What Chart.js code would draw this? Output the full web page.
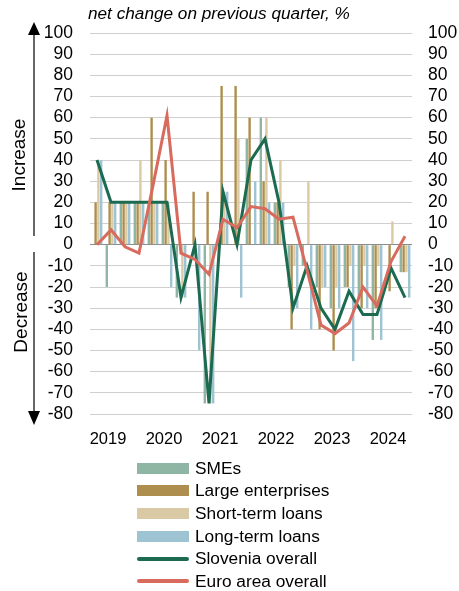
<!DOCTYPE html>
<html>
<head>
<meta charset="utf-8">
<script src="https://cdn.jsdelivr.net/npm/chart.js@4"></script>
<style>
  html, body { margin: 0; padding: 0; background: #fff; }
  #wrap { position: relative; width: 459px; height: 591px; }
  #legend { position: absolute; left: 137px; top: 457px; font: 17.3px "Liberation Sans", Arial, sans-serif; color: #000; }
  .item { height: 22.6px; display: flex; align-items: center; }
  .sw { width: 52px; margin-right: 6px; }
</style>
</head>
<body>
<div id="wrap">
  <canvas id="myChart" width="459" height="591"></canvas>
  <div id="legend"></div>
</div>
<script>
const quarters = [
  '2019Q1', '2019Q2', '2019Q3', '2019Q4',
  '2020Q1', '2020Q2', '2020Q3', '2020Q4',
  '2021Q1', '2021Q2', '2021Q3', '2021Q4',
  '2022Q1', '2022Q2', '2022Q3', '2022Q4',
  '2023Q1', '2023Q2', '2023Q3', '2023Q4',
  '2024Q1', '2024Q2', '2024Q3',
];
const yTicks = [100, 90, 80, 70, 60, 50, 40, 30, 20, 10, 0, -10, -20, -30, -40, -50, -60, -70, -80];

const smes      = [0, -20, 20, 20, 20, 20, -25, 0, -75, 0, 0, 50, 60, 20, -20, -10, -20, -30, -20, -25, -45, 0, -13];
const large     = [20, 20, 20, 20, 60, 40, 0, 25, 25, 75, 75, 60, 30, 20, -40, 0, -40, -50, -20, -30, -30, -22, -13];
const shortTerm = [40, 20, 20, 40, 20, 20, -25, 0, -75, 25, 50, 0, 60, 40, -10, 30, -20, -20, -10, -10, -10, 11, -13];
const longTerm  = [40, 20, 20, 20, 20, -20, -25, -50, -75, 25, -25, 30, 20, 20, -30, -40, -20, -30, -55, -30, -45, 0, -25];
const slovenia  = [40, 20, 20, 20, 20, 20, -25, 0, -75, 25, 0, 40, 50, 20, -30, -10, -30, -40, -22, -33, -33, -11, -25];
const euroArea  = [0, 7, -1, -4, 28, 61, -4, -7, -14, 12, 8, 18, 17, 12, 13, -12, -38, -42, -37, -20, -29, -8, 4];

; ((D) => {
  const font = '"Liberation Sans", Arial, sans-serif';

  let bars = [
    { label: 'SMEs', data: smes, color: '#8fb6a5' },
    { label: 'Large enterprises', data: large, color: '#ad8e4e' },
    { label: 'Short-term loans', data: shortTerm, color: '#d9caa5' },
    { label: 'Long-term loans', data: longTerm, color: '#9ec4d4' },
  ];
  let lines = [
    { label: 'Slovenia overall', data: slovenia, color: '#1c6a4f' },
    { label: 'Euro area overall', data: euroArea, color: '#d86b5e' },
  ];

  let datasets = [];
  for (const b of bars) {
    datasets.push({
      type: 'bar', label: b.label, data: b.data,
      backgroundColor: b.color, borderWidth: 0,
      categoryPercentage: 0.8, barPercentage: 0.85, order: 3,
    });
  }
  lines.forEach((l, i) => {
    datasets.push({
      type: 'line', label: l.label, data: l.data,
      borderColor: l.color, borderWidth: 3, pointRadius: 0,
      tension: 0, fill: false, order: 2 - i,
    });
  });

  // title, arrows and Increase / Decrease labels
  const extras = {
    id: 'extras',
    afterDraw(chart) {
      const c = chart.ctx;
      const a = chart.chartArea;
      c.save();
      c.fillStyle = '#000';
      c.font = 'italic 17.2px ' + font;
      c.textBaseline = 'middle';
      c.fillText('net change on previous quarter, %', a.left - 2, 14);

      const x = 34;
      c.strokeStyle = '#000';
      c.lineWidth = 1.2;
      c.beginPath();
      c.moveTo(x, 34); c.lineTo(x, 236);
      c.moveTo(x, 252); c.lineTo(x, 412);
      c.stroke();
      c.beginPath();
      c.moveTo(x, 22); c.lineTo(x - 6, 35); c.lineTo(x + 6, 35); c.closePath();
      c.moveTo(x, 425); c.lineTo(x - 6, 411); c.lineTo(x + 6, 411); c.closePath();
      c.fill();

      c.font = '19px ' + font;
      c.textAlign = 'center';
      c.translate(20, 155);
      c.rotate(-Math.PI / 2);
      c.fillText('Increase', 0, 0);
      c.rotate(Math.PI / 2);
      c.translate(2, 157);
      c.rotate(-Math.PI / 2);
      c.fillText('Decrease', 0, 0);
      c.restore();
    }
  };

  const ctx = D.querySelector('#myChart').getContext('2d');
  const yOpts = (pos, width, pad) => ({
    type: 'linear', position: pos, min: -80, max: 100,
    afterBuildTicks: s => { s.ticks = yTicks.map(v => ({ value: v })); },
    afterFit: s => { s.width = width; },
    ticks: { autoSkip: false, padding: pad, color: '#000', font: { size: 17.5, family: font } },
    grid: {
      drawTicks: false, drawOnChartArea: pos === 'left', lineWidth: 1,
      color: ctx => ctx.tick && ctx.tick.value === 0 ? '#8c8c8c' : '#cfcfcf',
    },
    border: { display: false },
  });

  let chart = new Chart(ctx, {
    data: { labels: quarters, datasets: datasets },
    plugins: [extras],
    options: {
      responsive: false,
      animation: false,
      layout: { padding: { top: 33, bottom: 137, left: 0, right: 0 } },
      plugins: { legend: { display: false }, tooltip: { enabled: false } },
      scales: {
        x: {
          type: 'category', offset: true,
          afterFit: s => { s.height = 40; },
          grid: { display: false, drawTicks: false },
          border: { display: false },
          ticks: {
            autoSkip: false, maxRotation: 0, padding: 16, labelOffset: -3,
            color: '#000', font: { size: 16.5, family: font },
            callback: (v, i) => quarters[i].endsWith('Q2') ? quarters[i].slice(0, 4) : '',
          },
        },
        y: yOpts('left', 90, 17),
        y2: yOpts('right', 47, 16),
      },
    },
  });

  // legend, one entry per row
  let lg = D.querySelector('#legend');
  for (const ds of chart.data.datasets) {
    let isLine = ds.type === 'line';
    let row = D.createElement('div');
    row.className = 'item';
    let sw = D.createElement('span');
    sw.className = 'sw';
    sw.style.height = isLine ? '4px' : '11px';
    sw.style.background = isLine ? ds.borderColor : ds.backgroundColor;
    if (isLine) sw.style.borderRadius = '2px';
    row.appendChild(sw);
    row.appendChild(D.createTextNode(ds.label));
    lg.appendChild(row);
  }
})(document);
</script>
</body>
</html>
